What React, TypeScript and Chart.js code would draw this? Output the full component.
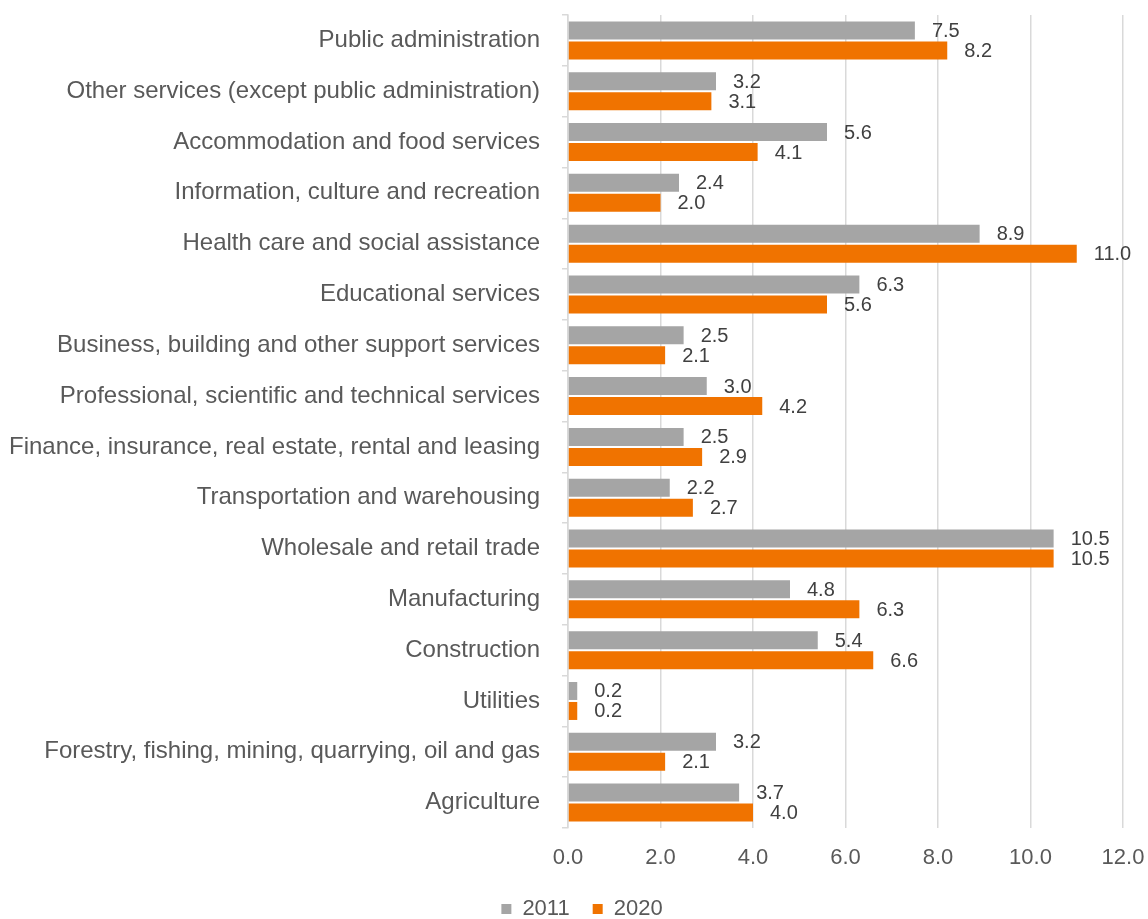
import React, { useEffect, useRef } from "react";
import { Chart, registerables } from "chart.js";

Chart.register(...registerables);

const categories = [
  "Public administration",
  "Other services (except public administration)",
  "Accommodation and food services",
  "Information, culture and recreation",
  "Health care and social assistance",
  "Educational services",
  "Business, building and other support services",
  "Professional, scientific and technical services",
  "Finance, insurance, real estate, rental and leasing",
  "Transportation and warehousing",
  "Wholesale and retail trade",
  "Manufacturing",
  "Construction",
  "Utilities",
  "Forestry, fishing, mining, quarrying, oil and gas",
  "Agriculture",
];

const values2011 = [7.5, 3.2, 5.6, 2.4, 8.9, 6.3, 2.5, 3.0, 2.5, 2.2, 10.5, 4.8, 5.4, 0.2, 3.2, 3.7];
const values2020 = [8.2, 3.1, 4.1, 2.0, 11.0, 5.6, 2.1, 4.2, 2.9, 2.7, 10.5, 6.3, 6.6, 0.2, 2.1, 4.0];

const seriesLabels = ["2011", "2020"];
const xTickMin = 0;
const xTickMax = 12;
const xTickStep = 2;

const FONT = "'Liberation Sans', Arial, sans-serif";
const TEXT = "#595959";
const LABEL_TEXT = "#404040";
const GRID = "#D9D9D9";

const dataLabelPlugin = {
  id: "dataLabels",
  afterDatasetsDraw(chart: any) {
    const ctx = chart.ctx;
    ctx.save();
    ctx.font = `20px ${FONT}`;
    ctx.fillStyle = LABEL_TEXT;
    ctx.textAlign = "left";
    ctx.textBaseline = "middle";
    chart.data.datasets.forEach((ds: any, i: number) => {
      const meta = chart.getDatasetMeta(i);
      meta.data.forEach((el: any, j: number) => {
        const v = ds.data[j];
        ctx.fillText(Number(v).toFixed(1), el.x + 17, el.y + 1);
      });
    });
    ctx.restore();
  },
};

const legendShiftPlugin = {
  id: "legendShift",
  afterLayout(chart: any) {
    if (chart.legend) {
      chart.legend.left += 16;
    }
  },
};

export default function App() {
  const ref = useRef<HTMLCanvasElement | null>(null);

  useEffect(() => {
    if (!ref.current) return;
    const chart = new Chart(ref.current, {
      type: "bar",
      data: {
        labels: categories,
        datasets: [
          {
            label: seriesLabels[0],
            data: values2011,
            backgroundColor: "#A5A5A5",
            barPercentage: 0.9,
            categoryPercentage: 0.787,
          },
          {
            label: seriesLabels[1],
            data: values2020,
            backgroundColor: "#F07300",
            barPercentage: 0.9,
            categoryPercentage: 0.787,
          },
        ],
      },
      options: {
        indexAxis: "y",
        animation: false,
        responsive: true,
        maintainAspectRatio: false,
        layout: { padding: { top: 15, left: 0, right: 0, bottom: 0 } },
        scales: {
          x: {
            min: xTickMin,
            max: xTickMax,
            ticks: {
              stepSize: xTickStep,
              color: TEXT,
              padding: 17,
              font: { family: FONT, size: 22 },
              callback: (v: any) => Number(v).toFixed(1),
            },
            grid: { color: GRID, drawTicks: false, lineWidth: 1.5 },
            border: { display: false },
            afterFit: (scale: any) => {
              scale.height = 47;
              scale.paddingLeft = 0;
              scale.paddingRight = 25;
            },
          },
          y: {
            ticks: {
              color: TEXT,
              padding: 22,
              font: { family: FONT, size: 24 },
            },
            grid: {
              color: GRID,
              drawOnChartArea: false,
              drawTicks: true,
              tickLength: 6,
              lineWidth: 1.5,
            },
            border: { display: true, color: GRID, width: 1.5 },
            afterFit: (scale: any) => {
              scale.width = 568;
              scale.paddingTop = 0;
              scale.paddingBottom = 0;
            },
          },
        },
        plugins: {
          legend: {
            position: "bottom",
            labels: {
              boxWidth: 10,
              boxHeight: 10,
              padding: 23,
              color: TEXT,
              font: { family: FONT, size: 22 },
            },
          },
          tooltip: { enabled: false },
        },
      },
      plugins: [dataLabelPlugin, legendShiftPlugin],
    });
    return () => chart.destroy();
  }, []);

  return (
    <div
      style={{
        position: "fixed",
        left: 0,
        top: 0,
        width: 1148,
        height: 930,
        background: "#ffffff",
      }}
    >
      <canvas ref={ref} />
    </div>
  );
}
